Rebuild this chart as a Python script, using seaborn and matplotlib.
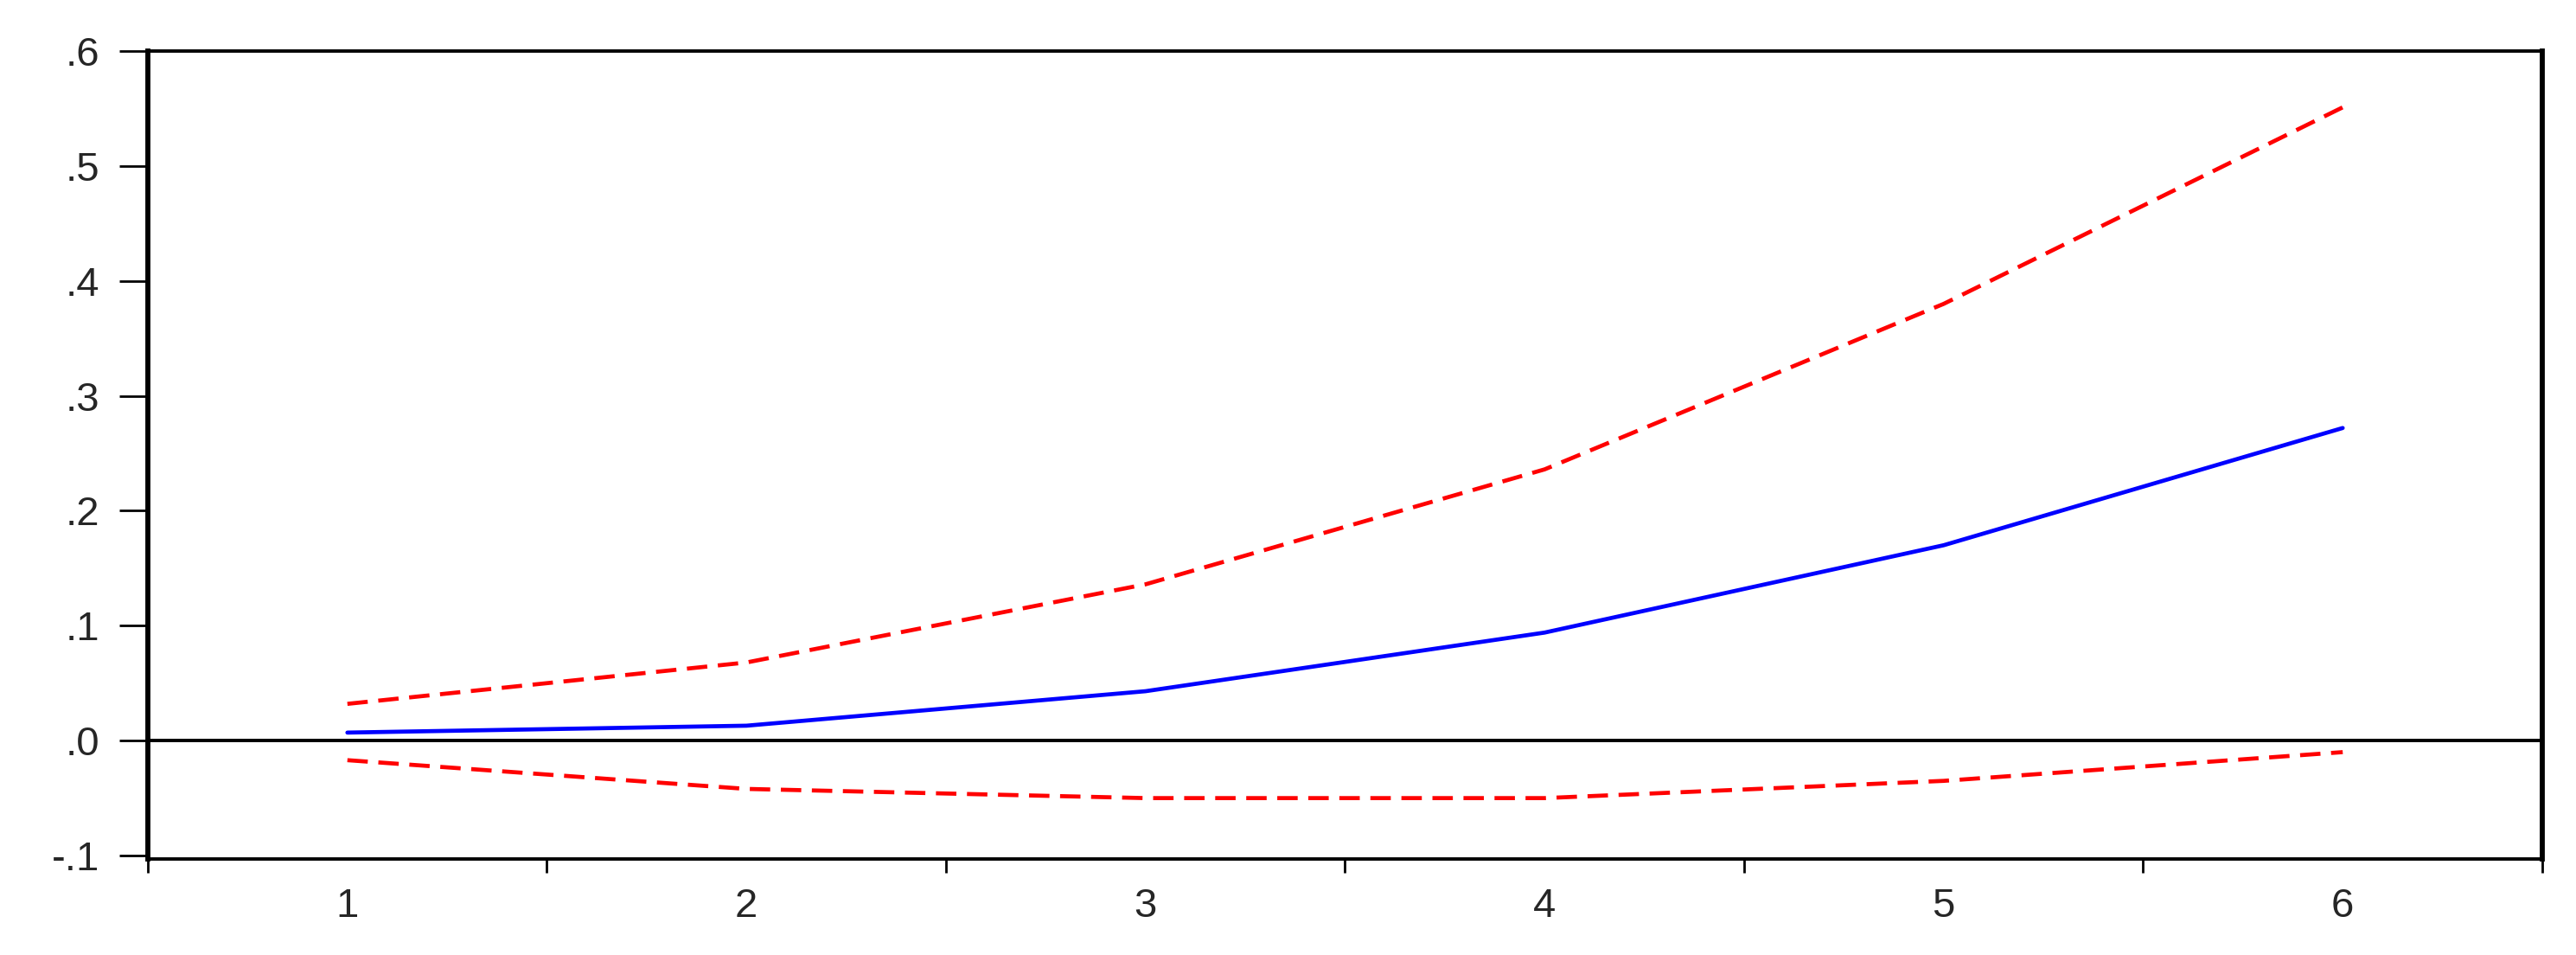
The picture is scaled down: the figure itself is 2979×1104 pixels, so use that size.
import matplotlib
matplotlib.use("Agg")
import matplotlib.pyplot as plt
from matplotlib.ticker import FixedLocator
import seaborn as sns
import pandas as pd

# --- Data (impulse response with +/- 2 s.e. bands) ---
periods = [1, 2, 3, 4, 5, 6]
response = [0.007, 0.013, 0.043, 0.094, 0.170, 0.272]
upper_band = [0.032, 0.068, 0.136, 0.236, 0.380, 0.551]
lower_band = [-0.017, -0.042, -0.050, -0.050, -0.035, -0.010]

y_ticks = [-0.1, 0.0, 0.1, 0.2, 0.3, 0.4, 0.5, 0.6]
y_tick_labels = ["-.1", ".0", ".1", ".2", ".3", ".4", ".5", ".6"]
x_tick_labels = ["1", "2", "3", "4", "5", "6"]

df = pd.DataFrame({
    "Period": periods,
    "Response": response,
    "Upper": upper_band,
    "Lower": lower_band,
})

sns.set_style("white")
plt.rcParams["font.family"] = ["Liberation Sans", "DejaVu Sans"]

fig = plt.figure(figsize=(29.79, 11.04), dpi=100)
ax = fig.add_axes([0.0574, 0.1005, 0.9295, 0.8461])

sns.lineplot(data=df, x="Period", y="Response", color="#0000ff", linewidth=3.4, ax=ax)
sns.lineplot(data=df, x="Period", y="Upper", color="#ff0000", linewidth=3.4,
             linestyle=(0, (5, 2.6)), ax=ax)
sns.lineplot(data=df, x="Period", y="Lower", color="#ff0000", linewidth=3.4,
             linestyle=(0, (5, 2.6)), ax=ax)

# zero reference line
ax.axhline(0, color="black", linewidth=2.8, zorder=1)

ax.set_xlim(0.5, 6.5)
ax.set_ylim(-0.103, 0.6)

# labels at integers (no tick marks), tick marks between periods
ax.set_xticks(periods)
ax.set_xticklabels(x_tick_labels)
ax.xaxis.set_minor_locator(FixedLocator([p - 0.5 for p in periods] + [6.5]))
ax.tick_params(axis="x", which="major", length=0, pad=24, labelsize=34)
ax.tick_params(axis="x", which="minor", length=11.5, width=2.0, direction="out",
               color="black", bottom=True)

ax.set_yticks(y_ticks)
ax.set_yticklabels(y_tick_labels)
ax.tick_params(axis="y", which="major", length=24, width=2.0, direction="out",
               color="black", pad=16, labelsize=34, left=True)

for side in ["left", "right"]:
    ax.spines[side].set_linewidth(4.2)
    ax.spines[side].set_color("black")
for side in ["top", "bottom"]:
    ax.spines[side].set_linewidth(2.8)
    ax.spines[side].set_color("black")

ax.set_xlabel("")
ax.set_ylabel("")
ax.grid(False)

fig.savefig("out.png", dpi=100, facecolor="white")
